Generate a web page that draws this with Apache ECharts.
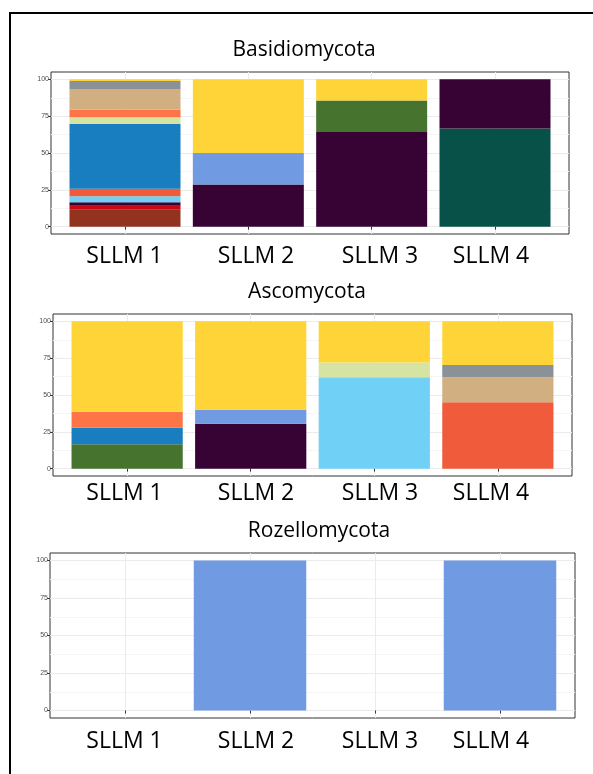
<!DOCTYPE html>
<html>
<head>
<meta charset="utf-8">
<script src="https://cdn.jsdelivr.net/npm/echarts@6/dist/echarts.min.js"></script>
<style>
html,body{margin:0;padding:0;background:#fff;}
#chart{width:593px;height:774px;}
</style>
</head>
<body>
<div id="chart"></div>
<script>
// ---- data ----
const categories = ['SLLM 1', 'SLLM 2', 'SLLM 3', 'SLLM 4'];
const panelTitles = ['Basidiomycota', 'Ascomycota', 'Rozellomycota'];
const yTickValues = [0, 25, 50, 75, 100];
const yMinorValues = [12.5, 37.5, 62.5, 87.5];
const xTickValues = [1, 2, 3, 4];
// taxa, listed bottom-of-stack first
const taxa = ['Taxon 14', 'Taxon 13', 'Taxon 12', 'Taxon 11', 'Taxon 10', 'Taxon 9', 'Taxon 8',
              'Taxon 7', 'Taxon 6', 'Taxon 5', 'Taxon 4', 'Taxon 3', 'Taxon 2', 'Taxon 1'];
// rows follow `taxa`, columns follow `categories` (relative abundance, %)
const basidiomycota = [
  [11.5, 0, 0, 0],
  [2.7, 0, 0, 0],
  [0, 0, 0, 66.7],
  [2.4, 28.6, 64.3, 33.3],
  [4.1, 0, 0, 0],
  [0, 0, 21.4, 0],
  [5.1, 0, 0, 0],
  [43.9, 0, 0, 0],
  [4.5, 0, 0, 0],
  [5.4, 0, 0, 0],
  [13.9, 0, 0, 0],
  [5.4, 0, 0, 0],
  [0, 21.4, 0, 0],
  [1.1, 50, 14.3, 0]
];
const ascomycota = [
  [0, 0, 0, 0],
  [0, 0, 0, 0],
  [0, 0, 0, 0],
  [0, 30.5, 0, 0],
  [0, 0, 62.1, 0],
  [16.6, 0, 0, 0],
  [0, 0, 0, 45.1],
  [11.2, 0, 0, 0],
  [0, 0, 9.9, 0],
  [10.8, 0, 0, 0],
  [0, 0, 0, 17.0],
  [0, 0, 0, 8.3],
  [0, 9.4, 0, 0],
  [61.4, 60.1, 28.0, 29.6]
];
const rozellomycota = [
  [0, 0, 0, 0],
  [0, 0, 0, 0],
  [0, 0, 0, 0],
  [0, 0, 0, 0],
  [0, 0, 0, 0],
  [0, 0, 0, 0],
  [0, 0, 0, 0],
  [0, 0, 0, 0],
  [0, 0, 0, 0],
  [0, 0, 0, 0],
  [0, 0, 0, 0],
  [0, 0, 0, 0],
  [0, 100, 0, 100],
  [0, 0, 0, 0]
];

// ---- styles / layout ----
const palette = ['#91331F', '#C80813', '#075149', '#370335', '#71D0F5', '#46732E', '#F05C3B',
                 '#197EC0', '#D5E4A2', '#FD7446', '#D2AF81', '#8A9197', '#709AE1', '#FED439'];
const panelData = [basidiomycota, ascomycota, rozellomycota];
const grids = [
  {left: 51, top: 72, width: 518, height: 162},
  {left: 53, top: 314, width: 519, height: 162},
  {left: 50, top: 553, width: 525, height: 165}
];
const titlePos = [[304, 50], [307, 292], [319, 531]];
const labelY = [256, 493, 741];
const labelX = [124.5, 256, 380, 491];

const FONT = '"Open Sans", "Noto Sans", sans-serif';

const option = {
  animation: false,
  backgroundColor: '#fff',
  grid: [], xAxis: [], yAxis: [], series: [], graphic: []
};

grids.forEach((g, p) => {
  // outer panel: frame + gridlines (ggplot discrete expansion 0.6 each side)
  option.grid.push(Object.assign({
    show: true, backgroundColor: '#fff', borderColor: '#333', borderWidth: 1,
    containLabel: false, outerBoundsMode: 'none'
  }, g));
  // inner band area: categories 1..4 occupy [0.5, 4.5] of the [0.4, 4.6] range
  const unit = g.width / 4.2;
  option.grid.push({
    show: false, left: g.left + 0.1 * unit, top: g.top, width: 4 * unit, height: g.height,
    containLabel: false, outerBoundsMode: 'none'
  });
  option.xAxis.push({
    type: 'value', gridIndex: 2 * p, min: 0.4, max: 4.6,
    axisLine: {show: false},
    axisTick: {show: true, length: 3, lineStyle: {color: '#333', width: 1}, customValues: xTickValues},
    axisLabel: {show: false},
    splitLine: {show: true, lineStyle: {color: '#ebebeb', width: 1}}
  });
  option.xAxis.push({
    type: 'category', gridIndex: 2 * p + 1, data: categories,
    axisLine: {show: false}, axisTick: {show: false}, axisLabel: {show: false},
    splitLine: {show: false}
  });
  option.yAxis.push({
    type: 'value', gridIndex: 2 * p, min: -5, max: 105, position: 'left',
    axisLine: {show: false},
    axisTick: {show: true, length: 3, lineStyle: {color: '#333', width: 1}, customValues: yTickValues},
    axisLabel: {show: true, customValues: yTickValues, fontSize: 7, color: '#4d4d4d', margin: 2,
                fontFamily: 'Liberation Sans, Arial, sans-serif'},
    splitLine: {show: true, lineStyle: {color: '#ebebeb', width: 1}}
  });
  option.yAxis.push({
    type: 'value', gridIndex: 2 * p, min: -5, max: 105, position: 'left',
    axisLine: {show: false},
    axisTick: {show: false, customValues: yMinorValues},
    axisLabel: {show: false},
    splitLine: {show: true, lineStyle: {color: '#f5f5f5', width: 1}}
  });
  option.yAxis.push({
    type: 'value', gridIndex: 2 * p + 1, min: -5, max: 105,
    axisLine: {show: false}, axisTick: {show: false}, axisLabel: {show: false},
    splitLine: {show: false}
  });
  const rows = panelData[p];
  rows.forEach((vals, t) => {
    if (vals.every(v => v === 0)) return;
    option.series.push({
      type: 'bar', name: taxa[t], stack: 'panel' + p,
      xAxisIndex: 2 * p + 1, yAxisIndex: 3 * p + 2,
      barWidth: '90%',
      itemStyle: {color: palette[t]},
      data: vals
    });
  });
  option.graphic.push({
    type: 'text', silent: true,
    style: {text: panelTitles[p], x: titlePos[p][0], y: titlePos[p][1],
            textAlign: 'center', textVerticalAlign: 'middle', verticalAlign: 'middle',
            font: '21px ' + FONT, fill: '#000'}
  });
  categories.forEach((c, i) => {
    option.graphic.push({
      type: 'text', silent: true,
      style: {text: c, x: labelX[i], y: labelY[p],
              textAlign: 'center', textVerticalAlign: 'middle', verticalAlign: 'middle',
              font: '23px ' + FONT, fill: '#000'}
    });
  });
});

option.graphic.push({
  type: 'rect', silent: true, z: -10,
  shape: {x: 10, y: 13, width: 700, height: 900},
  style: {fill: 'none', stroke: '#000', lineWidth: 2}
});

const chart = echarts.init(document.getElementById('chart'), null, {renderer: 'canvas'});
chart.setOption(option);
</script>
</body>
</html>
